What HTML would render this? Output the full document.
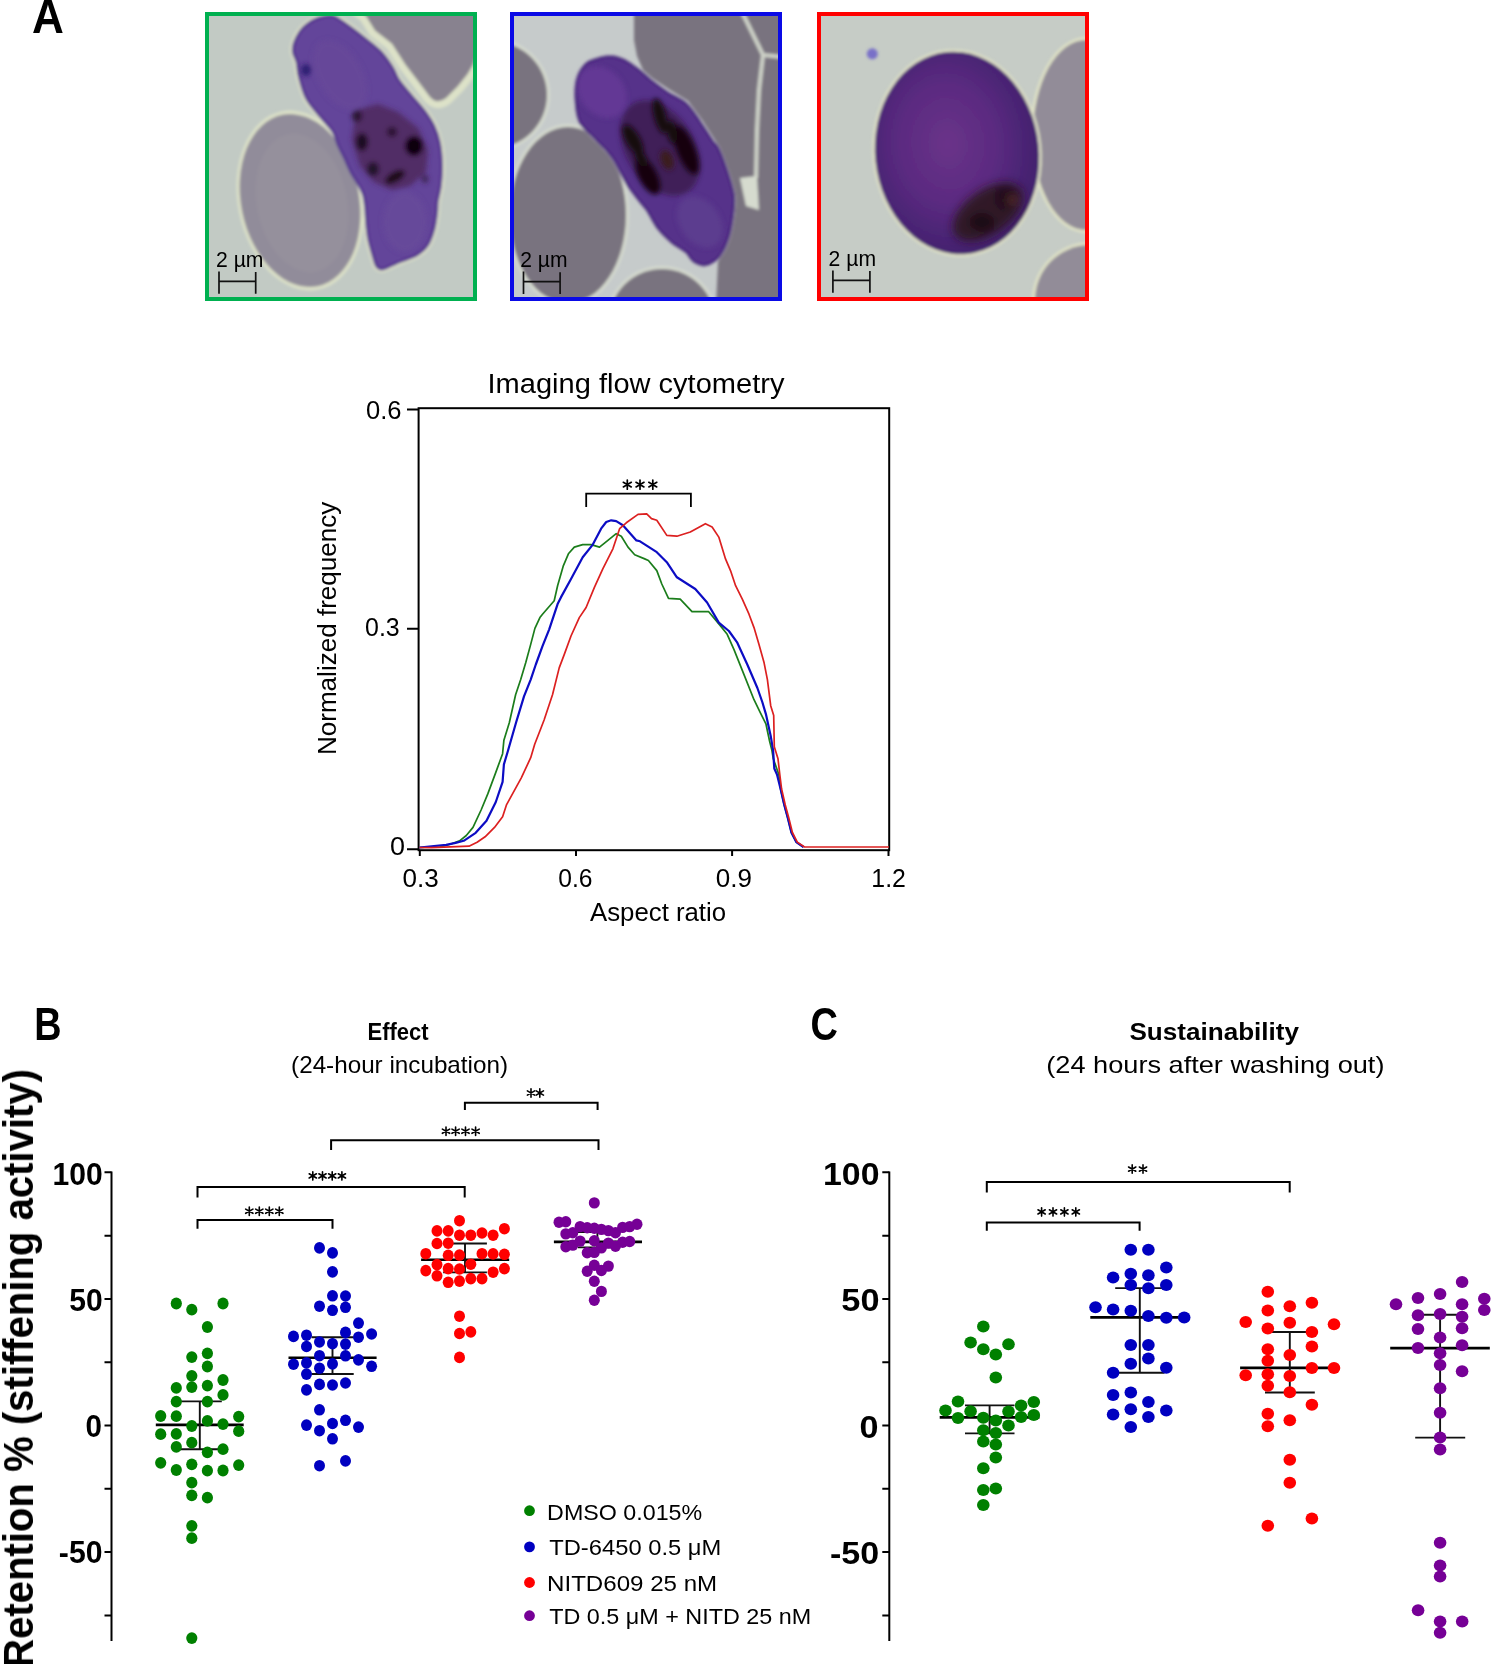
<!DOCTYPE html><html><head><meta charset="utf-8"><title>Figure</title><style>html,body{margin:0;padding:0;background:#fff;}svg{display:block;}text{font-family:"Liberation Sans",sans-serif;fill:#000;}</style></head><body>
<svg width="1491" height="1664" viewBox="0 0 1491 1664">
<defs><filter id="bl2" x="-20%" y="-20%" width="140%" height="140%"><feGaussianBlur stdDeviation="1.6"/></filter><filter id="bl3" x="-50%" y="-50%" width="200%" height="200%"><feGaussianBlur stdDeviation="2.6"/></filter><filter id="bl4" x="-50%" y="-50%" width="200%" height="200%"><feGaussianBlur stdDeviation="4"/></filter></defs>
<rect width="1491" height="1664" fill="#fff"/>
<clipPath id="cg"><rect x="209" y="16" width="264" height="281"/></clipPath><g clip-path="url(#cg)"><rect x="204" y="11" width="274" height="291" fill="#c2cac4"/><g filter="url(#bl2)"><ellipse cx="300" cy="200.5" rx="62" ry="91" transform="rotate(-11.7 300 200.5)" fill="#dde2c8"/><path d="M358,10 L366,16 L375,30.5 L392,43.7 L405.5,64.8 L418.7,82 L430,97 Q437,105 446,98 L458,86 L467.6,74.1 L473,64.8 L482,40 L482,10 Z" fill="#dde2c8" stroke="#dde2c8" stroke-width="14" stroke-linejoin="round"/><path d="M331.5,16.0 C335.3,16.4 337.5,18.8 341.0,21.0 C344.5,23.2 348.8,26.3 352.7,29.2 C356.6,32.1 360.0,34.7 364.6,38.4 C369.2,42.1 375.8,46.8 380.4,51.6 C385.0,56.5 389.2,62.6 392.3,67.5 C395.4,72.3 395.6,75.9 398.9,80.7 C402.2,85.5 407.7,91.3 412.1,96.6 C416.5,101.9 421.7,107.5 425.3,112.4 C428.9,117.3 431.5,121.2 433.8,126.2 C436.1,131.2 437.9,136.1 439.2,142.4 C440.5,148.7 441.2,156.9 441.4,164.1 C441.6,171.3 441.0,179.4 440.3,185.7 C439.6,192.0 437.7,197.4 437.1,201.9 C436.5,206.4 437.1,208.2 436.5,212.7 C435.9,217.2 435.3,223.6 433.8,229.0 C432.3,234.4 430.2,240.9 427.3,245.2 C424.4,249.5 421.0,252.2 416.5,254.9 C412.0,257.6 404.6,259.6 400.3,261.4 C396.0,263.2 393.7,264.4 390.6,265.7 C387.5,267.0 384.2,269.0 381.9,269.0 C379.5,269.0 377.9,267.9 376.5,265.7 C375.1,263.5 374.6,260.3 373.3,256.0 C372.0,251.7 370.0,245.2 368.9,239.8 C367.8,234.4 367.3,228.9 366.8,223.5 C366.3,218.1 366.2,212.2 365.7,207.3 C365.1,202.5 364.8,198.4 363.5,194.4 C362.2,190.4 360.1,187.1 358.1,183.5 C356.1,179.9 353.8,176.8 351.6,172.7 C349.4,168.6 347.2,163.2 345.1,158.7 C343.0,154.2 340.8,150.3 338.7,145.7 C336.6,141.1 336.4,136.6 332.8,131.0 C329.2,125.5 321.4,117.9 317.0,112.4 C312.6,106.9 309.3,103.6 306.4,97.9 C303.5,92.2 301.3,84.0 299.8,78.1 C298.3,72.1 298.2,66.5 297.2,62.2 C296.1,57.9 293.9,55.2 293.5,52.0 C293.1,48.8 293.4,46.3 294.5,43.0 C295.6,39.7 298.0,35.0 300.0,32.0 C302.0,29.0 303.4,27.4 306.4,25.2 C309.4,22.9 313.8,20.0 318.0,18.5 C322.2,17.0 327.7,15.6 331.5,16.0 Z" fill="#dde2c8" stroke="#dde2c8" stroke-width="7"/><ellipse cx="300" cy="200.5" rx="59" ry="87.5" transform="rotate(-11.7 300 200.5)" fill="#918c9a"/><ellipse cx="302" cy="203" rx="45" ry="70" transform="rotate(-11.7 302 203)" fill="#9a95a1" opacity="0.4"/><path d="M358,10 L366,16 L375,30.5 L392,43.7 L405.5,64.8 L418.7,82 L430,97 Q437,105 446,98 L458,86 L467.6,74.1 L473,64.8 L482,40 L482,10 Z" fill="#88828f"/><path d="M331.5,16.0 C335.3,16.4 337.5,18.8 341.0,21.0 C344.5,23.2 348.8,26.3 352.7,29.2 C356.6,32.1 360.0,34.7 364.6,38.4 C369.2,42.1 375.8,46.8 380.4,51.6 C385.0,56.5 389.2,62.6 392.3,67.5 C395.4,72.3 395.6,75.9 398.9,80.7 C402.2,85.5 407.7,91.3 412.1,96.6 C416.5,101.9 421.7,107.5 425.3,112.4 C428.9,117.3 431.5,121.2 433.8,126.2 C436.1,131.2 437.9,136.1 439.2,142.4 C440.5,148.7 441.2,156.9 441.4,164.1 C441.6,171.3 441.0,179.4 440.3,185.7 C439.6,192.0 437.7,197.4 437.1,201.9 C436.5,206.4 437.1,208.2 436.5,212.7 C435.9,217.2 435.3,223.6 433.8,229.0 C432.3,234.4 430.2,240.9 427.3,245.2 C424.4,249.5 421.0,252.2 416.5,254.9 C412.0,257.6 404.6,259.6 400.3,261.4 C396.0,263.2 393.7,264.4 390.6,265.7 C387.5,267.0 384.2,269.0 381.9,269.0 C379.5,269.0 377.9,267.9 376.5,265.7 C375.1,263.5 374.6,260.3 373.3,256.0 C372.0,251.7 370.0,245.2 368.9,239.8 C367.8,234.4 367.3,228.9 366.8,223.5 C366.3,218.1 366.2,212.2 365.7,207.3 C365.1,202.5 364.8,198.4 363.5,194.4 C362.2,190.4 360.1,187.1 358.1,183.5 C356.1,179.9 353.8,176.8 351.6,172.7 C349.4,168.6 347.2,163.2 345.1,158.7 C343.0,154.2 340.8,150.3 338.7,145.7 C336.6,141.1 336.4,136.6 332.8,131.0 C329.2,125.5 321.4,117.9 317.0,112.4 C312.6,106.9 309.3,103.6 306.4,97.9 C303.5,92.2 301.3,84.0 299.8,78.1 C298.3,72.1 298.2,66.5 297.2,62.2 C296.1,57.9 293.9,55.2 293.5,52.0 C293.1,48.8 293.4,46.3 294.5,43.0 C295.6,39.7 298.0,35.0 300.0,32.0 C302.0,29.0 303.4,27.4 306.4,25.2 C309.4,22.9 313.8,20.0 318.0,18.5 C322.2,17.0 327.7,15.6 331.5,16.0 Z" fill="#64449a" stroke="#553690" stroke-width="3"/></g><g filter="url(#bl3)"><ellipse cx="340" cy="75" rx="22" ry="38" transform="rotate(-30 340 75)" fill="#6a4a98" opacity="0.7"/><ellipse cx="405" cy="222" rx="22" ry="30" fill="#6a4c9a" opacity="0.7"/><path d="M356,110 L378,104 L398,112 L418,128 L428,150 L426,172 L410,186 L392,190 L374,182 L360,166 L352,140 Z" fill="#4e2458" opacity="0.8"/><ellipse cx="362" cy="142" rx="6" ry="9" fill="#1e1020"/><ellipse cx="357" cy="116" rx="5" ry="6" fill="#2a1630"/><ellipse cx="392" cy="132" rx="5" ry="5" fill="#2a1630"/><ellipse cx="414" cy="146" rx="9" ry="10" fill="#0e060c"/><ellipse cx="373" cy="169" rx="6" ry="7" fill="#22122a"/><ellipse cx="395" cy="177" rx="11" ry="5" transform="rotate(-30 395 177)" fill="#1a0c18"/><ellipse cx="425" cy="179" rx="3" ry="4" fill="#3a2250"/><ellipse cx="306" cy="70" rx="5" ry="6" fill="#2a1a70"/></g></g>
<clipPath id="cb"><rect x="514" y="16" width="264" height="281"/></clipPath><g clip-path="url(#cb)"><rect x="509" y="11" width="274" height="291" fill="#c6cbcb"/><g filter="url(#bl2)"><path d="M634,10 L790,10 L790,305 L716,305 L718,262 L727,242 L734,216 L735,196 L730,176 L720,148 L702,120 L688,101 L670,90 L652,78 L643,70 L637,56 L634,40 Z" fill="#79737f"/><path d="M741,10 L763,55 L782,57 M763,55 L759,90 L757,130 L756,178" stroke="#d6dbcf" stroke-width="4" fill="none" opacity="0.9"/><path d="M740,178 L757,176 L759,210 L746,206 Z" fill="#d6dbcf"/><ellipse cx="494" cy="95" rx="56" ry="56" fill="#d6dbcf"/><ellipse cx="568" cy="215" rx="61" ry="91" fill="#d6dbcf"/><ellipse cx="662" cy="322" rx="56" ry="56" fill="#d6dbcf"/><ellipse cx="494" cy="95" rx="53" ry="53" fill="#79737f"/><ellipse cx="568" cy="215" rx="58" ry="88" fill="#79737f"/><ellipse cx="662" cy="322" rx="53" ry="53" fill="#79737f"/><path d="M577.9,78.0 C579.7,72.2 583.2,66.7 587.0,63.4 C590.8,60.1 596.2,59.1 600.7,58.0 C605.2,56.9 609.8,56.2 614.3,57.0 C618.8,57.8 623.4,59.9 628.0,62.5 C632.6,65.1 638.0,69.7 641.7,72.6 C645.4,75.5 645.6,76.5 650.0,79.9 C654.4,83.3 661.8,88.9 667.8,92.9 C673.8,96.9 680.9,99.1 686.3,104.0 C691.7,108.9 695.9,116.3 700.2,122.5 C704.5,128.7 709.1,136.4 712.2,141.0 C715.3,145.6 715.9,143.9 718.7,150.0 C721.5,156.1 726.4,170.1 728.9,177.8 C731.4,185.5 732.9,190.1 733.5,196.3 C734.1,202.5 733.5,207.9 732.6,214.8 C731.7,221.8 730.3,231.1 728.0,238.0 C725.7,244.9 722.6,252.0 718.7,256.5 C714.8,261.0 709.0,264.0 704.8,264.8 C700.6,265.6 696.8,263.2 693.7,261.1 C690.6,259.0 689.8,255.0 686.3,251.9 C682.8,248.8 677.0,246.5 672.4,242.6 C667.8,238.7 662.7,234.1 658.5,228.7 C654.3,223.3 650.5,214.8 647.4,210.2 C644.3,205.6 643.2,205.2 640.0,201.0 C636.8,196.8 632.3,191.8 628.0,185.0 C623.7,178.2 618.1,166.1 614.3,160.0 C610.5,153.9 609.0,152.5 605.2,148.3 C601.4,144.1 595.8,139.2 591.5,134.6 C587.2,130.0 582.3,127.0 579.7,120.9 C577.1,114.8 576.3,105.2 576.0,98.1 C575.7,90.9 576.1,83.8 577.9,78.0 Z" fill="#c8c2c8" stroke="#c8c2c8" stroke-width="4"/><path d="M577.9,78.0 C579.7,72.2 583.2,66.7 587.0,63.4 C590.8,60.1 596.2,59.1 600.7,58.0 C605.2,56.9 609.8,56.2 614.3,57.0 C618.8,57.8 623.4,59.9 628.0,62.5 C632.6,65.1 638.0,69.7 641.7,72.6 C645.4,75.5 645.6,76.5 650.0,79.9 C654.4,83.3 661.8,88.9 667.8,92.9 C673.8,96.9 680.9,99.1 686.3,104.0 C691.7,108.9 695.9,116.3 700.2,122.5 C704.5,128.7 709.1,136.4 712.2,141.0 C715.3,145.6 715.9,143.9 718.7,150.0 C721.5,156.1 726.4,170.1 728.9,177.8 C731.4,185.5 732.9,190.1 733.5,196.3 C734.1,202.5 733.5,207.9 732.6,214.8 C731.7,221.8 730.3,231.1 728.0,238.0 C725.7,244.9 722.6,252.0 718.7,256.5 C714.8,261.0 709.0,264.0 704.8,264.8 C700.6,265.6 696.8,263.2 693.7,261.1 C690.6,259.0 689.8,255.0 686.3,251.9 C682.8,248.8 677.0,246.5 672.4,242.6 C667.8,238.7 662.7,234.1 658.5,228.7 C654.3,223.3 650.5,214.8 647.4,210.2 C644.3,205.6 643.2,205.2 640.0,201.0 C636.8,196.8 632.3,191.8 628.0,185.0 C623.7,178.2 618.1,166.1 614.3,160.0 C610.5,153.9 609.0,152.5 605.2,148.3 C601.4,144.1 595.8,139.2 591.5,134.6 C587.2,130.0 582.3,127.0 579.7,120.9 C577.1,114.8 576.3,105.2 576.0,98.1 C575.7,90.9 576.1,83.8 577.9,78.0 Z" fill="#56308a" stroke="#4a2680" stroke-width="3"/></g><g filter="url(#bl3)"><ellipse cx="602" cy="92" rx="22" ry="28" transform="rotate(-40 602 92)" fill="#6c3c9c" opacity="0.6"/><ellipse cx="700" cy="222" rx="20" ry="28" transform="rotate(-35 700 222)" fill="#614292" opacity="0.6"/><ellipse cx="660" cy="148" rx="34" ry="52" transform="rotate(-32 660 148)" fill="#301838" opacity="0.6"/></g><g filter="url(#bl3)"><ellipse cx="648" cy="176" rx="9" ry="20" transform="rotate(-27 648 176)" fill="#12060c"/><ellipse cx="686" cy="150" rx="9" ry="26" transform="rotate(-22 686 150)" fill="#12060c"/><ellipse cx="660" cy="116" rx="6" ry="18" transform="rotate(-15 660 116)" fill="#160810"/><ellipse cx="633" cy="140" rx="7" ry="17" transform="rotate(-30 633 140)" fill="#160810"/><ellipse cx="672" cy="132" rx="5" ry="12" transform="rotate(-10 672 132)" fill="#160810"/><ellipse cx="641" cy="158" rx="5" ry="10" transform="rotate(-30 641 158)" fill="#160810"/><ellipse cx="667" cy="160" rx="6" ry="10" transform="rotate(-20 667 160)" fill="#3a1a1c"/></g></g>
<clipPath id="cr"><rect x="821" y="16" width="264" height="281"/></clipPath><g clip-path="url(#cr)"><rect x="816" y="11" width="274" height="291" fill="#c6ccc6"/><g filter="url(#bl2)"><ellipse cx="1086" cy="135" rx="56" ry="98" fill="#dfe2c6"/><ellipse cx="1090" cy="300" rx="58" ry="58" fill="#dfe2c6"/><ellipse cx="1086" cy="135" rx="53" ry="95" fill="#928c98"/><ellipse cx="1090" cy="300" rx="55" ry="55" fill="#928c98"/><ellipse cx="957" cy="153" rx="84.5" ry="104" transform="rotate(-6 957 153)" fill="#dfe2c6"/><radialGradient id="rg" cx="0.45" cy="0.45" r="0.55"><stop offset="0" stop-color="#6a3389"/><stop offset="0.55" stop-color="#5a2a80"/><stop offset="0.85" stop-color="#4a2474"/><stop offset="1" stop-color="#43206e"/></radialGradient><ellipse cx="957" cy="153" rx="82" ry="101.5" transform="rotate(-6 957 153)" fill="url(#rg)"/><circle cx="872.3" cy="53.8" r="5.5" fill="#7870c8"/></g><g filter="url(#bl4)"><ellipse cx="988" cy="212" rx="40" ry="22" transform="rotate(-35 988 212)" fill="#2c1420" opacity="0.9"/><ellipse cx="982" cy="222" rx="12" ry="9" fill="#1c0c12"/><ellipse cx="1005" cy="198" rx="10" ry="12" fill="#24101a"/><ellipse cx="1012" cy="200" rx="4" ry="4" fill="#6a3a30" opacity="0.8"/></g></g>
<rect x="207" y="14" width="268" height="285" fill="none" stroke="#00b050" stroke-width="4"/>
<rect x="512" y="14" width="268" height="285" fill="none" stroke="#0a0ae6" stroke-width="4"/>
<rect x="819" y="14" width="268" height="285" fill="none" stroke="#ff0000" stroke-width="4"/>
<path d="M219,271.4V293.7M255.7,272.09999999999997V293.7M219,281.4H255.7" stroke="#111" stroke-width="1.7" fill="none"/>
<path d="M523.5,271.6V293.90000000000003M560.1,272.3V293.90000000000003M523.5,281.6H560.1" stroke="#111" stroke-width="1.7" fill="none"/>
<path d="M832.9,270.4V292.7M869.9,271.09999999999997V292.7M832.9,280.4H869.9" stroke="#111" stroke-width="1.7" fill="none"/>
<g fill="none" stroke="#000" stroke-width="2"><rect x="418.6" y="408.2" width="470.6" height="442"/><path d="M407,409.5H418.5M407,628.8H418.5M407,849.2H418.5"/><path d="M419.8,850V856M576,850V856M732.1,850V856M888.5,850V856"/></g>
<polyline points="419.4,847.5 440.0,847.0 450.2,844.2 459.6,840.8 466.3,835.5 473.0,827.4 481.1,810.0 487.8,793.9 495.8,772.4 502.6,753.7 503.9,740.2 509.3,722.8 515.6,694.7 520.7,679.6 525.7,662.8 530.7,644.4 534.9,628.4 539.9,617.6 542.5,614.2 554.2,600.8 557.6,585.7 563.4,565.6 568.4,553.8 574.3,547.1 582.7,544.6 591.1,544.6 599.5,547.1 607.9,540.4 616.2,533.7 621.3,536.2 628.0,547.1 634.7,554.7 644.7,558.9 648.4,560.5 656.8,570.6 661.8,584.0 668.5,598.3 680.2,599.1 692.0,611.7 708.7,611.7 720.5,625.9 727.2,634.3 733.9,649.4 744.0,674.6 754.0,699.7 759.8,711.7 765.9,723.8 769.5,740.7 771.9,750.4 773.3,758.8 778.8,774.5 780.6,789.0 784.2,804.7 787.8,818.0 791.4,832.5 796.3,842.1 803.5,847.0" fill="none" stroke="#1b7d1b" stroke-width="1.7" stroke-linejoin="round" />
<polyline points="419.4,847.5 446.2,844.9 455.6,842.9 463.7,840.8 475.7,832.8 486.5,820.7 495.8,802.0 502.6,781.8 503.9,764.4 507.9,751.0 516.0,722.8 524.0,696.4 530.7,679.6 535.8,664.5 542.5,646.1 549.2,629.3 557.6,604.1 560.9,597.4 571.0,579.0 582.7,557.2 592.8,544.6 601.1,528.7 606.2,522.0 611.2,520.3 616.2,521.1 622.9,525.3 636.4,540.4 640.0,541.3 656.8,552.2 666.8,562.2 676.9,577.3 695.3,589.0 707.1,602.5 718.8,622.6 728.9,631.0 737.3,642.7 747.3,664.5 757.4,688.0 762.3,702.0 765.9,714.1 770.7,735.9 773.1,750.4 774.3,768.5 777.0,774.5 780.6,789.0 784.2,804.7 787.8,818.0 791.4,832.5 796.3,842.1 803.5,847.0" fill="none" stroke="#0c0cc4" stroke-width="2.2" stroke-linejoin="round" />
<polyline points="419.4,847.5 431.5,847.6 469.0,846.2 477.1,842.2 485.1,836.8 494.5,827.4 502.6,816.7 506.6,804.6 521.3,777.8 530.7,757.7 534.7,744.3 541.5,726.8 544.1,720.0 552.5,694.7 559.2,667.9 564.3,654.4 571.0,636.0 579.3,617.6 586.1,607.5 594.4,587.4 602.8,568.9 612.9,548.8 619.6,528.7 626.3,522.8 638.0,514.4 646.7,513.9 651.5,518.6 656.8,520.3 666.8,535.4 676.9,536.2 690.3,532.0 705.4,523.7 712.1,527.0 718.8,537.1 725.5,558.9 730.5,570.6 735.6,585.7 742.3,599.1 749.0,614.2 754.0,627.6 759.0,644.4 764.1,662.8 767.4,679.6 770.7,705.7 773.7,715.4 774.3,746.7 778.0,758.8 779.8,774.5 781.6,789.0 785.2,804.7 788.8,818.0 792.4,832.5 797.3,842.1 804.5,847.0 889.0,847.0" fill="none" stroke="#dc2020" stroke-width="1.7" stroke-linejoin="round" />
<path d="M586.2,507V493.7H690.9V507" fill="none" stroke="#000" stroke-width="1.8"/>
<path d="M627.30,489.20L627.30,480.00M623.32,486.90L631.28,482.30M623.32,482.30L631.28,486.90" stroke="#000" stroke-width="1.7" stroke-linecap="round" fill="none"/>
<path d="M640.00,489.20L640.00,480.00M636.02,486.90L643.98,482.30M636.02,482.30L643.98,486.90" stroke="#000" stroke-width="1.7" stroke-linecap="round" fill="none"/>
<path d="M652.80,489.20L652.80,480.00M648.82,486.90L656.78,482.30M648.82,482.30L656.78,486.90" stroke="#000" stroke-width="1.7" stroke-linecap="round" fill="none"/>
<g fill="none" stroke="#000" stroke-width="2">
<path d="M111.5,1171.5V1641"/>
<path d="M104.5,1172.3H111.5M104.5,1235.7H111.5M104.5,1299H111.5M104.5,1362.2H111.5M104.5,1425.5H111.5M104.5,1488.8H111.5M104.5,1552.1H111.5M104.5,1615.4H111.5"/>
<path d="M889.3,1171.5V1641"/>
<path d="M882.3,1172.3H889.3M882.3,1235.7H889.3M882.3,1299H889.3M882.3,1362.2H889.3M882.3,1425.5H889.3M882.3,1488.8H889.3M882.3,1552.1H889.3M882.3,1615.4H889.3"/>
</g>
<path d="M464.9,1110.1V1102.8H597.6V1110.1" fill="none" stroke="#000" stroke-width="2"/>
<path d="M531.00,1097.20L531.00,1088.80M527.36,1095.10L534.64,1090.90M527.36,1090.90L534.64,1095.10" stroke="#000" stroke-width="1.6" stroke-linecap="round" fill="none"/>
<path d="M539.80,1097.20L539.80,1088.80M536.16,1095.10L543.44,1090.90M536.16,1090.90L543.44,1095.10" stroke="#000" stroke-width="1.6" stroke-linecap="round" fill="none"/>
<path d="M331.1,1150.0V1140.3H598.5V1150.0" fill="none" stroke="#000" stroke-width="2"/>
<path d="M446.00,1135.40L446.00,1127.00M442.36,1133.30L449.64,1129.10M442.36,1129.10L449.64,1133.30" stroke="#000" stroke-width="1.6" stroke-linecap="round" fill="none"/>
<path d="M455.60,1135.40L455.60,1127.00M451.96,1133.30L459.24,1129.10M451.96,1129.10L459.24,1133.30" stroke="#000" stroke-width="1.6" stroke-linecap="round" fill="none"/>
<path d="M465.50,1135.40L465.50,1127.00M461.86,1133.30L469.14,1129.10M461.86,1129.10L469.14,1133.30" stroke="#000" stroke-width="1.6" stroke-linecap="round" fill="none"/>
<path d="M475.60,1135.40L475.60,1127.00M471.96,1133.30L479.24,1129.10M471.96,1129.10L479.24,1133.30" stroke="#000" stroke-width="1.6" stroke-linecap="round" fill="none"/>
<path d="M197.5,1197.6V1187.1H464.7V1197.6" fill="none" stroke="#000" stroke-width="2"/>
<path d="M312.80,1180.10L312.80,1171.70M309.16,1178.00L316.44,1173.80M309.16,1173.80L316.44,1178.00" stroke="#000" stroke-width="1.6" stroke-linecap="round" fill="none"/>
<path d="M322.50,1180.10L322.50,1171.70M318.86,1178.00L326.14,1173.80M318.86,1173.80L326.14,1178.00" stroke="#000" stroke-width="1.6" stroke-linecap="round" fill="none"/>
<path d="M332.20,1180.10L332.20,1171.70M328.56,1178.00L335.84,1173.80M328.56,1173.80L335.84,1178.00" stroke="#000" stroke-width="1.6" stroke-linecap="round" fill="none"/>
<path d="M341.90,1180.10L341.90,1171.70M338.26,1178.00L345.54,1173.80M338.26,1173.80L345.54,1178.00" stroke="#000" stroke-width="1.6" stroke-linecap="round" fill="none"/>
<path d="M197.5,1228.7V1220.1H332.5V1228.7" fill="none" stroke="#000" stroke-width="2"/>
<path d="M249.30,1215.40L249.30,1207.00M245.66,1213.30L252.94,1209.10M245.66,1209.10L252.94,1213.30" stroke="#000" stroke-width="1.6" stroke-linecap="round" fill="none"/>
<path d="M259.30,1215.40L259.30,1207.00M255.66,1213.30L262.94,1209.10M255.66,1209.10L262.94,1213.30" stroke="#000" stroke-width="1.6" stroke-linecap="round" fill="none"/>
<path d="M269.30,1215.40L269.30,1207.00M265.66,1213.30L272.94,1209.10M265.66,1209.10L272.94,1213.30" stroke="#000" stroke-width="1.6" stroke-linecap="round" fill="none"/>
<path d="M279.30,1215.40L279.30,1207.00M275.66,1213.30L282.94,1209.10M275.66,1209.10L282.94,1213.30" stroke="#000" stroke-width="1.6" stroke-linecap="round" fill="none"/>
<path d="M986.8,1192.5V1182.0H1289.7V1192.5" fill="none" stroke="#000" stroke-width="2"/>
<path d="M1132.20,1173.30L1132.20,1164.90M1128.56,1171.20L1135.84,1167.00M1128.56,1167.00L1135.84,1171.20" stroke="#000" stroke-width="1.6" stroke-linecap="round" fill="none"/>
<path d="M1143.00,1173.30L1143.00,1164.90M1139.36,1171.20L1146.64,1167.00M1139.36,1167.00L1146.64,1171.20" stroke="#000" stroke-width="1.6" stroke-linecap="round" fill="none"/>
<path d="M986.8,1230.7V1222.5H1139.6V1230.7" fill="none" stroke="#000" stroke-width="2"/>
<path d="M1041.60,1216.10L1041.60,1207.70M1037.96,1214.00L1045.24,1209.80M1037.96,1209.80L1045.24,1214.00" stroke="#000" stroke-width="1.6" stroke-linecap="round" fill="none"/>
<path d="M1053.00,1216.10L1053.00,1207.70M1049.36,1214.00L1056.64,1209.80M1049.36,1209.80L1056.64,1214.00" stroke="#000" stroke-width="1.6" stroke-linecap="round" fill="none"/>
<path d="M1064.40,1216.10L1064.40,1207.70M1060.76,1214.00L1068.04,1209.80M1060.76,1209.80L1068.04,1214.00" stroke="#000" stroke-width="1.6" stroke-linecap="round" fill="none"/>
<path d="M1075.80,1216.10L1075.80,1207.70M1072.16,1214.00L1079.44,1209.80M1072.16,1209.80L1079.44,1214.00" stroke="#000" stroke-width="1.6" stroke-linecap="round" fill="none"/>
<path d="M155.8,1424.9H243.7" stroke="#000" stroke-width="2.6"/>
<path d="M199.8,1401.4V1449.3M177.5,1401.4H221.8M177.5,1449.3H221.8" stroke="#111" stroke-width="1.9" fill="none"/>
<path d="M288.5,1357.7H376.6" stroke="#000" stroke-width="2.6"/>
<path d="M332.5,1337.2V1374.0M311.5,1337.2H353.7M311.5,1374.0H353.7" stroke="#111" stroke-width="1.9" fill="none"/>
<path d="M421.1,1259.7H509.2" stroke="#000" stroke-width="2.6"/>
<path d="M465.0,1243.5V1272.4M443.2,1243.5H486.9M443.2,1272.4H486.9" stroke="#111" stroke-width="1.9" fill="none"/>
<path d="M553.9,1241.9H642.0" stroke="#000" stroke-width="2.6"/>
<path d="M597.4,1232.0V1247.4M577.7,1232.0H619.0M577.7,1247.4H619.0" stroke="#111" stroke-width="1.9" fill="none"/>
<path d="M939.7,1417.4H1039.5" stroke="#000" stroke-width="2.6"/>
<path d="M989.6,1405.4V1433.4M965.0,1405.4H1014.5M965.0,1433.4H1014.5" stroke="#111" stroke-width="1.9" fill="none"/>
<path d="M1090.3,1317.4H1190.0" stroke="#000" stroke-width="2.6"/>
<path d="M1139.8,1288.1V1372.7M1115.2,1288.1H1164.5M1115.2,1372.7H1164.5" stroke="#111" stroke-width="1.9" fill="none"/>
<path d="M1240.1,1367.9H1340.0" stroke="#000" stroke-width="2.6"/>
<path d="M1289.8,1332.0V1392.5M1265.0,1332.0H1314.8M1265.0,1392.5H1314.8" stroke="#111" stroke-width="1.9" fill="none"/>
<path d="M1390.2,1348.1H1489.8" stroke="#000" stroke-width="2.6"/>
<path d="M1440.1,1314.8V1437.6M1415.2,1314.8H1465.2M1415.2,1437.6H1465.2" stroke="#111" stroke-width="1.9" fill="none"/>
<ellipse cx="176.3" cy="1303.5" rx="5.6" ry="5.9" fill="#008000"/><ellipse cx="223.0" cy="1303.5" rx="5.6" ry="5.9" fill="#008000"/><ellipse cx="191.8" cy="1309.7" rx="5.6" ry="5.9" fill="#008000"/><ellipse cx="207.4" cy="1327.0" rx="5.6" ry="5.9" fill="#008000"/><ellipse cx="207.4" cy="1353.3" rx="5.6" ry="5.9" fill="#008000"/><ellipse cx="191.8" cy="1357.1" rx="5.6" ry="5.9" fill="#008000"/><ellipse cx="207.4" cy="1366.5" rx="5.6" ry="5.9" fill="#008000"/><ellipse cx="191.8" cy="1375.8" rx="5.6" ry="5.9" fill="#008000"/><ellipse cx="223.0" cy="1380.0" rx="5.6" ry="5.9" fill="#008000"/><ellipse cx="207.4" cy="1385.6" rx="5.6" ry="5.9" fill="#008000"/><ellipse cx="191.8" cy="1387.1" rx="5.6" ry="5.9" fill="#008000"/><ellipse cx="176.3" cy="1387.9" rx="5.6" ry="5.9" fill="#008000"/><ellipse cx="223.0" cy="1394.9" rx="5.6" ry="5.9" fill="#008000"/><ellipse cx="176.3" cy="1401.6" rx="5.6" ry="5.9" fill="#008000"/><ellipse cx="207.4" cy="1401.6" rx="5.6" ry="5.9" fill="#008000"/><ellipse cx="160.7" cy="1416.0" rx="5.6" ry="5.9" fill="#008000"/><ellipse cx="176.3" cy="1416.2" rx="5.6" ry="5.9" fill="#008000"/><ellipse cx="238.7" cy="1416.6" rx="5.6" ry="5.9" fill="#008000"/><ellipse cx="207.4" cy="1420.9" rx="5.6" ry="5.9" fill="#008000"/><ellipse cx="223.0" cy="1424.1" rx="5.6" ry="5.9" fill="#008000"/><ellipse cx="191.8" cy="1426.0" rx="5.6" ry="5.9" fill="#008000"/><ellipse cx="238.7" cy="1431.2" rx="5.6" ry="5.9" fill="#008000"/><ellipse cx="160.7" cy="1434.2" rx="5.6" ry="5.9" fill="#008000"/><ellipse cx="176.3" cy="1433.9" rx="5.6" ry="5.9" fill="#008000"/><ellipse cx="191.8" cy="1442.7" rx="5.6" ry="5.9" fill="#008000"/><ellipse cx="176.3" cy="1446.9" rx="5.6" ry="5.9" fill="#008000"/><ellipse cx="223.0" cy="1449.2" rx="5.6" ry="5.9" fill="#008000"/><ellipse cx="207.4" cy="1452.3" rx="5.6" ry="5.9" fill="#008000"/><ellipse cx="160.7" cy="1462.8" rx="5.6" ry="5.9" fill="#008000"/><ellipse cx="191.8" cy="1464.3" rx="5.6" ry="5.9" fill="#008000"/><ellipse cx="238.7" cy="1465.1" rx="5.6" ry="5.9" fill="#008000"/><ellipse cx="176.3" cy="1470.0" rx="5.6" ry="5.9" fill="#008000"/><ellipse cx="207.4" cy="1470.7" rx="5.6" ry="5.9" fill="#008000"/><ellipse cx="223.0" cy="1470.5" rx="5.6" ry="5.9" fill="#008000"/><ellipse cx="191.8" cy="1482.7" rx="5.6" ry="5.9" fill="#008000"/><ellipse cx="191.8" cy="1495.3" rx="5.6" ry="5.9" fill="#008000"/><ellipse cx="207.4" cy="1497.7" rx="5.6" ry="5.9" fill="#008000"/><ellipse cx="191.8" cy="1525.8" rx="5.6" ry="5.9" fill="#008000"/><ellipse cx="191.8" cy="1538.2" rx="5.6" ry="5.9" fill="#008000"/><ellipse cx="191.8" cy="1638.1" rx="5.6" ry="5.9" fill="#008000"/>
<ellipse cx="319.5" cy="1247.9" rx="5.5" ry="5.8" fill="#0000c0"/><ellipse cx="332.5" cy="1252.9" rx="5.5" ry="5.8" fill="#0000c0"/><ellipse cx="332.5" cy="1271.9" rx="5.5" ry="5.8" fill="#0000c0"/><ellipse cx="332.5" cy="1295.8" rx="5.5" ry="5.8" fill="#0000c0"/><ellipse cx="345.5" cy="1296.0" rx="5.5" ry="5.8" fill="#0000c0"/><ellipse cx="319.5" cy="1306.2" rx="5.5" ry="5.8" fill="#0000c0"/><ellipse cx="345.5" cy="1307.3" rx="5.5" ry="5.8" fill="#0000c0"/><ellipse cx="332.5" cy="1310.3" rx="5.5" ry="5.8" fill="#0000c0"/><ellipse cx="358.5" cy="1323.1" rx="5.5" ry="5.8" fill="#0000c0"/><ellipse cx="345.5" cy="1332.4" rx="5.5" ry="5.8" fill="#0000c0"/><ellipse cx="371.6" cy="1334.0" rx="5.5" ry="5.8" fill="#0000c0"/><ellipse cx="306.5" cy="1335.2" rx="5.5" ry="5.8" fill="#0000c0"/><ellipse cx="293.5" cy="1336.4" rx="5.5" ry="5.8" fill="#0000c0"/><ellipse cx="358.5" cy="1337.2" rx="5.5" ry="5.8" fill="#0000c0"/><ellipse cx="319.5" cy="1342.0" rx="5.5" ry="5.8" fill="#0000c0"/><ellipse cx="332.5" cy="1343.7" rx="5.5" ry="5.8" fill="#0000c0"/><ellipse cx="345.5" cy="1344.1" rx="5.5" ry="5.8" fill="#0000c0"/><ellipse cx="306.5" cy="1346.5" rx="5.5" ry="5.8" fill="#0000c0"/><ellipse cx="319.5" cy="1355.7" rx="5.5" ry="5.8" fill="#0000c0"/><ellipse cx="345.5" cy="1355.8" rx="5.5" ry="5.8" fill="#0000c0"/><ellipse cx="358.5" cy="1359.9" rx="5.5" ry="5.8" fill="#0000c0"/><ellipse cx="306.5" cy="1362.9" rx="5.5" ry="5.8" fill="#0000c0"/><ellipse cx="332.5" cy="1363.9" rx="5.5" ry="5.8" fill="#0000c0"/><ellipse cx="293.5" cy="1364.2" rx="5.5" ry="5.8" fill="#0000c0"/><ellipse cx="371.6" cy="1366.3" rx="5.5" ry="5.8" fill="#0000c0"/><ellipse cx="319.5" cy="1368.2" rx="5.5" ry="5.8" fill="#0000c0"/><ellipse cx="306.5" cy="1374.1" rx="5.5" ry="5.8" fill="#0000c0"/><ellipse cx="345.5" cy="1383.0" rx="5.5" ry="5.8" fill="#0000c0"/><ellipse cx="319.5" cy="1384.4" rx="5.5" ry="5.8" fill="#0000c0"/><ellipse cx="332.5" cy="1385.0" rx="5.5" ry="5.8" fill="#0000c0"/><ellipse cx="306.5" cy="1389.9" rx="5.5" ry="5.8" fill="#0000c0"/><ellipse cx="319.5" cy="1409.8" rx="5.5" ry="5.8" fill="#0000c0"/><ellipse cx="345.5" cy="1420.3" rx="5.5" ry="5.8" fill="#0000c0"/><ellipse cx="332.5" cy="1423.5" rx="5.5" ry="5.8" fill="#0000c0"/><ellipse cx="306.5" cy="1425.1" rx="5.5" ry="5.8" fill="#0000c0"/><ellipse cx="358.5" cy="1427.1" rx="5.5" ry="5.8" fill="#0000c0"/><ellipse cx="319.5" cy="1430.7" rx="5.5" ry="5.8" fill="#0000c0"/><ellipse cx="332.5" cy="1438.8" rx="5.5" ry="5.8" fill="#0000c0"/><ellipse cx="345.5" cy="1460.9" rx="5.5" ry="5.8" fill="#0000c0"/><ellipse cx="319.5" cy="1465.7" rx="5.5" ry="5.8" fill="#0000c0"/>
<ellipse cx="459.5" cy="1220.7" rx="5.5" ry="5.8" fill="#ff0000"/><ellipse cx="504.4" cy="1228.7" rx="5.5" ry="5.8" fill="#ff0000"/><ellipse cx="437.0" cy="1230.9" rx="5.5" ry="5.8" fill="#ff0000"/><ellipse cx="448.2" cy="1230.9" rx="5.5" ry="5.8" fill="#ff0000"/><ellipse cx="482.0" cy="1233.0" rx="5.5" ry="5.8" fill="#ff0000"/><ellipse cx="459.5" cy="1235.2" rx="5.5" ry="5.8" fill="#ff0000"/><ellipse cx="470.8" cy="1235.2" rx="5.5" ry="5.8" fill="#ff0000"/><ellipse cx="493.1" cy="1235.2" rx="5.5" ry="5.8" fill="#ff0000"/><ellipse cx="448.2" cy="1243.2" rx="5.5" ry="5.8" fill="#ff0000"/><ellipse cx="437.0" cy="1243.5" rx="5.5" ry="5.8" fill="#ff0000"/><ellipse cx="425.8" cy="1253.7" rx="5.5" ry="5.8" fill="#ff0000"/><ellipse cx="482.0" cy="1253.7" rx="5.5" ry="5.8" fill="#ff0000"/><ellipse cx="493.1" cy="1253.9" rx="5.5" ry="5.8" fill="#ff0000"/><ellipse cx="504.4" cy="1254.3" rx="5.5" ry="5.8" fill="#ff0000"/><ellipse cx="459.5" cy="1255.1" rx="5.5" ry="5.8" fill="#ff0000"/><ellipse cx="448.2" cy="1255.3" rx="5.5" ry="5.8" fill="#ff0000"/><ellipse cx="470.8" cy="1264.2" rx="5.5" ry="5.8" fill="#ff0000"/><ellipse cx="437.0" cy="1264.6" rx="5.5" ry="5.8" fill="#ff0000"/><ellipse cx="448.2" cy="1268.6" rx="5.5" ry="5.8" fill="#ff0000"/><ellipse cx="504.4" cy="1268.6" rx="5.5" ry="5.8" fill="#ff0000"/><ellipse cx="459.5" cy="1269.0" rx="5.5" ry="5.8" fill="#ff0000"/><ellipse cx="425.8" cy="1270.6" rx="5.5" ry="5.8" fill="#ff0000"/><ellipse cx="493.1" cy="1272.2" rx="5.5" ry="5.8" fill="#ff0000"/><ellipse cx="437.0" cy="1275.8" rx="5.5" ry="5.8" fill="#ff0000"/><ellipse cx="470.8" cy="1278.6" rx="5.5" ry="5.8" fill="#ff0000"/><ellipse cx="482.0" cy="1278.6" rx="5.5" ry="5.8" fill="#ff0000"/><ellipse cx="459.5" cy="1281.1" rx="5.5" ry="5.8" fill="#ff0000"/><ellipse cx="448.2" cy="1282.3" rx="5.5" ry="5.8" fill="#ff0000"/><ellipse cx="459.5" cy="1316.2" rx="5.5" ry="5.8" fill="#ff0000"/><ellipse cx="470.8" cy="1331.9" rx="5.5" ry="5.8" fill="#ff0000"/><ellipse cx="459.5" cy="1333.5" rx="5.5" ry="5.8" fill="#ff0000"/><ellipse cx="459.5" cy="1357.4" rx="5.5" ry="5.8" fill="#ff0000"/>
<ellipse cx="594.3" cy="1202.9" rx="5.5" ry="5.7" fill="#760096"/><ellipse cx="559.0" cy="1222.2" rx="5.5" ry="5.7" fill="#760096"/><ellipse cx="565.8" cy="1221.8" rx="5.5" ry="5.7" fill="#760096"/><ellipse cx="637.0" cy="1224.2" rx="5.5" ry="5.7" fill="#760096"/><ellipse cx="580.1" cy="1226.6" rx="5.5" ry="5.7" fill="#760096"/><ellipse cx="587.2" cy="1227.8" rx="5.5" ry="5.7" fill="#760096"/><ellipse cx="594.3" cy="1228.2" rx="5.5" ry="5.7" fill="#760096"/><ellipse cx="601.4" cy="1229.4" rx="5.5" ry="5.7" fill="#760096"/><ellipse cx="608.4" cy="1230.6" rx="5.5" ry="5.7" fill="#760096"/><ellipse cx="615.5" cy="1232.7" rx="5.5" ry="5.7" fill="#760096"/><ellipse cx="622.6" cy="1227.4" rx="5.5" ry="5.7" fill="#760096"/><ellipse cx="629.7" cy="1226.6" rx="5.5" ry="5.7" fill="#760096"/><ellipse cx="565.8" cy="1233.9" rx="5.5" ry="5.7" fill="#760096"/><ellipse cx="572.8" cy="1232.7" rx="5.5" ry="5.7" fill="#760096"/><ellipse cx="580.1" cy="1241.1" rx="5.5" ry="5.7" fill="#760096"/><ellipse cx="594.3" cy="1240.7" rx="5.5" ry="5.7" fill="#760096"/><ellipse cx="565.8" cy="1246.7" rx="5.5" ry="5.7" fill="#760096"/><ellipse cx="572.8" cy="1245.1" rx="5.5" ry="5.7" fill="#760096"/><ellipse cx="608.4" cy="1243.1" rx="5.5" ry="5.7" fill="#760096"/><ellipse cx="615.5" cy="1246.3" rx="5.5" ry="5.7" fill="#760096"/><ellipse cx="622.6" cy="1242.3" rx="5.5" ry="5.7" fill="#760096"/><ellipse cx="629.7" cy="1241.5" rx="5.5" ry="5.7" fill="#760096"/><ellipse cx="601.4" cy="1247.9" rx="5.5" ry="5.7" fill="#760096"/><ellipse cx="587.2" cy="1252.8" rx="5.5" ry="5.7" fill="#760096"/><ellipse cx="594.3" cy="1252.4" rx="5.5" ry="5.7" fill="#760096"/><ellipse cx="594.3" cy="1265.3" rx="5.5" ry="5.7" fill="#760096"/><ellipse cx="608.4" cy="1266.1" rx="5.5" ry="5.7" fill="#760096"/><ellipse cx="587.2" cy="1271.3" rx="5.5" ry="5.7" fill="#760096"/><ellipse cx="601.4" cy="1270.5" rx="5.5" ry="5.7" fill="#760096"/><ellipse cx="594.3" cy="1281.3" rx="5.5" ry="5.7" fill="#760096"/><ellipse cx="601.4" cy="1291.4" rx="5.5" ry="5.7" fill="#760096"/><ellipse cx="594.3" cy="1300.3" rx="5.5" ry="5.7" fill="#760096"/>
<ellipse cx="983.3" cy="1326.6" rx="6.3" ry="6.0" fill="#008000"/><ellipse cx="970.6" cy="1342.4" rx="6.3" ry="6.0" fill="#008000"/><ellipse cx="1008.5" cy="1344.3" rx="6.3" ry="6.0" fill="#008000"/><ellipse cx="983.3" cy="1349.3" rx="6.3" ry="6.0" fill="#008000"/><ellipse cx="995.8" cy="1354.5" rx="6.3" ry="6.0" fill="#008000"/><ellipse cx="995.8" cy="1377.4" rx="6.3" ry="6.0" fill="#008000"/><ellipse cx="958.0" cy="1401.6" rx="6.3" ry="6.0" fill="#008000"/><ellipse cx="1033.8" cy="1402.0" rx="6.3" ry="6.0" fill="#008000"/><ellipse cx="1021.1" cy="1405.5" rx="6.3" ry="6.0" fill="#008000"/><ellipse cx="945.5" cy="1410.6" rx="6.3" ry="6.0" fill="#008000"/><ellipse cx="970.6" cy="1411.3" rx="6.3" ry="6.0" fill="#008000"/><ellipse cx="1008.5" cy="1411.5" rx="6.3" ry="6.0" fill="#008000"/><ellipse cx="1033.8" cy="1414.9" rx="6.3" ry="6.0" fill="#008000"/><ellipse cx="1021.1" cy="1416.9" rx="6.3" ry="6.0" fill="#008000"/><ellipse cx="958.0" cy="1418.0" rx="6.3" ry="6.0" fill="#008000"/><ellipse cx="983.3" cy="1417.8" rx="6.3" ry="6.0" fill="#008000"/><ellipse cx="995.8" cy="1420.5" rx="6.3" ry="6.0" fill="#008000"/><ellipse cx="1008.5" cy="1425.4" rx="6.3" ry="6.0" fill="#008000"/><ellipse cx="983.3" cy="1430.2" rx="6.3" ry="6.0" fill="#008000"/><ellipse cx="995.8" cy="1433.0" rx="6.3" ry="6.0" fill="#008000"/><ellipse cx="983.3" cy="1441.4" rx="6.3" ry="6.0" fill="#008000"/><ellipse cx="995.8" cy="1444.4" rx="6.3" ry="6.0" fill="#008000"/><ellipse cx="995.8" cy="1457.5" rx="6.3" ry="6.0" fill="#008000"/><ellipse cx="983.3" cy="1468.2" rx="6.3" ry="6.0" fill="#008000"/><ellipse cx="995.8" cy="1488.4" rx="6.3" ry="6.0" fill="#008000"/><ellipse cx="983.3" cy="1490.1" rx="6.3" ry="6.0" fill="#008000"/><ellipse cx="983.3" cy="1505.0" rx="6.3" ry="6.0" fill="#008000"/>
<ellipse cx="1130.8" cy="1249.7" rx="6.3" ry="6.0" fill="#0000c0"/><ellipse cx="1148.4" cy="1249.7" rx="6.3" ry="6.0" fill="#0000c0"/><ellipse cx="1166.3" cy="1267.4" rx="6.3" ry="6.0" fill="#0000c0"/><ellipse cx="1130.8" cy="1273.8" rx="6.3" ry="6.0" fill="#0000c0"/><ellipse cx="1148.4" cy="1275.3" rx="6.3" ry="6.0" fill="#0000c0"/><ellipse cx="1113.1" cy="1277.4" rx="6.3" ry="6.0" fill="#0000c0"/><ellipse cx="1130.8" cy="1285.1" rx="6.3" ry="6.0" fill="#0000c0"/><ellipse cx="1166.3" cy="1285.1" rx="6.3" ry="6.0" fill="#0000c0"/><ellipse cx="1148.4" cy="1288.3" rx="6.3" ry="6.0" fill="#0000c0"/><ellipse cx="1095.5" cy="1307.2" rx="6.3" ry="6.0" fill="#0000c0"/><ellipse cx="1113.1" cy="1309.6" rx="6.3" ry="6.0" fill="#0000c0"/><ellipse cx="1130.8" cy="1310.7" rx="6.3" ry="6.0" fill="#0000c0"/><ellipse cx="1148.4" cy="1316.1" rx="6.3" ry="6.0" fill="#0000c0"/><ellipse cx="1166.3" cy="1317.7" rx="6.3" ry="6.0" fill="#0000c0"/><ellipse cx="1184.2" cy="1317.4" rx="6.3" ry="6.0" fill="#0000c0"/><ellipse cx="1130.8" cy="1345.0" rx="6.3" ry="6.0" fill="#0000c0"/><ellipse cx="1148.4" cy="1345.0" rx="6.3" ry="6.0" fill="#0000c0"/><ellipse cx="1148.4" cy="1358.6" rx="6.3" ry="6.0" fill="#0000c0"/><ellipse cx="1130.8" cy="1363.8" rx="6.3" ry="6.0" fill="#0000c0"/><ellipse cx="1166.3" cy="1367.8" rx="6.3" ry="6.0" fill="#0000c0"/><ellipse cx="1113.1" cy="1372.7" rx="6.3" ry="6.0" fill="#0000c0"/><ellipse cx="1130.8" cy="1392.6" rx="6.3" ry="6.0" fill="#0000c0"/><ellipse cx="1113.1" cy="1395.0" rx="6.3" ry="6.0" fill="#0000c0"/><ellipse cx="1148.4" cy="1402.0" rx="6.3" ry="6.0" fill="#0000c0"/><ellipse cx="1130.8" cy="1409.3" rx="6.3" ry="6.0" fill="#0000c0"/><ellipse cx="1166.3" cy="1410.5" rx="6.3" ry="6.0" fill="#0000c0"/><ellipse cx="1113.1" cy="1414.5" rx="6.3" ry="6.0" fill="#0000c0"/><ellipse cx="1148.4" cy="1416.9" rx="6.3" ry="6.0" fill="#0000c0"/><ellipse cx="1130.8" cy="1427.0" rx="6.3" ry="6.0" fill="#0000c0"/>
<ellipse cx="1267.8" cy="1291.8" rx="6.3" ry="6.0" fill="#ff0000"/><ellipse cx="1311.9" cy="1302.7" rx="6.3" ry="6.0" fill="#ff0000"/><ellipse cx="1289.8" cy="1306.2" rx="6.3" ry="6.0" fill="#ff0000"/><ellipse cx="1267.8" cy="1310.6" rx="6.3" ry="6.0" fill="#ff0000"/><ellipse cx="1245.7" cy="1322.0" rx="6.3" ry="6.0" fill="#ff0000"/><ellipse cx="1289.8" cy="1322.8" rx="6.3" ry="6.0" fill="#ff0000"/><ellipse cx="1334.0" cy="1324.2" rx="6.3" ry="6.0" fill="#ff0000"/><ellipse cx="1267.8" cy="1328.5" rx="6.3" ry="6.0" fill="#ff0000"/><ellipse cx="1311.9" cy="1332.0" rx="6.3" ry="6.0" fill="#ff0000"/><ellipse cx="1311.9" cy="1346.5" rx="6.3" ry="6.0" fill="#ff0000"/><ellipse cx="1267.8" cy="1349.2" rx="6.3" ry="6.0" fill="#ff0000"/><ellipse cx="1289.8" cy="1355.1" rx="6.3" ry="6.0" fill="#ff0000"/><ellipse cx="1267.8" cy="1360.7" rx="6.3" ry="6.0" fill="#ff0000"/><ellipse cx="1311.9" cy="1367.9" rx="6.3" ry="6.0" fill="#ff0000"/><ellipse cx="1334.0" cy="1367.9" rx="6.3" ry="6.0" fill="#ff0000"/><ellipse cx="1245.7" cy="1375.2" rx="6.3" ry="6.0" fill="#ff0000"/><ellipse cx="1267.8" cy="1374.3" rx="6.3" ry="6.0" fill="#ff0000"/><ellipse cx="1289.8" cy="1376.0" rx="6.3" ry="6.0" fill="#ff0000"/><ellipse cx="1267.8" cy="1385.7" rx="6.3" ry="6.0" fill="#ff0000"/><ellipse cx="1289.8" cy="1392.3" rx="6.3" ry="6.0" fill="#ff0000"/><ellipse cx="1311.9" cy="1404.7" rx="6.3" ry="6.0" fill="#ff0000"/><ellipse cx="1267.8" cy="1413.7" rx="6.3" ry="6.0" fill="#ff0000"/><ellipse cx="1289.8" cy="1420.2" rx="6.3" ry="6.0" fill="#ff0000"/><ellipse cx="1267.8" cy="1426.3" rx="6.3" ry="6.0" fill="#ff0000"/><ellipse cx="1289.8" cy="1459.8" rx="6.3" ry="6.0" fill="#ff0000"/><ellipse cx="1289.8" cy="1482.8" rx="6.3" ry="6.0" fill="#ff0000"/><ellipse cx="1311.9" cy="1518.4" rx="6.3" ry="6.0" fill="#ff0000"/><ellipse cx="1267.8" cy="1525.8" rx="6.3" ry="6.0" fill="#ff0000"/>
<ellipse cx="1462.1" cy="1282.1" rx="6.3" ry="6.0" fill="#760096"/><ellipse cx="1440.1" cy="1293.9" rx="6.3" ry="6.0" fill="#760096"/><ellipse cx="1418.0" cy="1298.1" rx="6.3" ry="6.0" fill="#760096"/><ellipse cx="1484.3" cy="1298.8" rx="6.3" ry="6.0" fill="#760096"/><ellipse cx="1396.0" cy="1304.3" rx="6.3" ry="6.0" fill="#760096"/><ellipse cx="1462.1" cy="1304.3" rx="6.3" ry="6.0" fill="#760096"/><ellipse cx="1484.3" cy="1310.1" rx="6.3" ry="6.0" fill="#760096"/><ellipse cx="1440.1" cy="1313.9" rx="6.3" ry="6.0" fill="#760096"/><ellipse cx="1418.0" cy="1315.2" rx="6.3" ry="6.0" fill="#760096"/><ellipse cx="1462.1" cy="1316.7" rx="6.3" ry="6.0" fill="#760096"/><ellipse cx="1462.1" cy="1328.2" rx="6.3" ry="6.0" fill="#760096"/><ellipse cx="1418.0" cy="1329.0" rx="6.3" ry="6.0" fill="#760096"/><ellipse cx="1440.1" cy="1337.5" rx="6.3" ry="6.0" fill="#760096"/><ellipse cx="1462.1" cy="1345.3" rx="6.3" ry="6.0" fill="#760096"/><ellipse cx="1418.0" cy="1348.1" rx="6.3" ry="6.0" fill="#760096"/><ellipse cx="1440.1" cy="1353.3" rx="6.3" ry="6.0" fill="#760096"/><ellipse cx="1440.1" cy="1365.0" rx="6.3" ry="6.0" fill="#760096"/><ellipse cx="1462.1" cy="1371.2" rx="6.3" ry="6.0" fill="#760096"/><ellipse cx="1440.1" cy="1388.3" rx="6.3" ry="6.0" fill="#760096"/><ellipse cx="1440.1" cy="1412.8" rx="6.3" ry="6.0" fill="#760096"/><ellipse cx="1440.1" cy="1437.4" rx="6.3" ry="6.0" fill="#760096"/><ellipse cx="1440.1" cy="1449.5" rx="6.3" ry="6.0" fill="#760096"/><ellipse cx="1440.1" cy="1542.8" rx="6.3" ry="6.0" fill="#760096"/><ellipse cx="1440.1" cy="1565.4" rx="6.3" ry="6.0" fill="#760096"/><ellipse cx="1440.1" cy="1576.6" rx="6.3" ry="6.0" fill="#760096"/><ellipse cx="1418.1" cy="1610.2" rx="6.3" ry="6.0" fill="#760096"/><ellipse cx="1440.1" cy="1621.4" rx="6.3" ry="6.0" fill="#760096"/><ellipse cx="1462.2" cy="1621.4" rx="6.3" ry="6.0" fill="#760096"/><ellipse cx="1440.1" cy="1632.7" rx="6.3" ry="6.0" fill="#760096"/>
<circle cx="529.5" cy="1510.7" r="5.4" fill="#008000"/>
<circle cx="529.5" cy="1546.9" r="5.4" fill="#0000c0"/>
<circle cx="529.5" cy="1582.5" r="5.4" fill="#ff0000"/>
<circle cx="529.5" cy="1615.7" r="5.4" fill="#760096"/>
<text x="32.09" y="33.20" font-size="48.5" font-weight="bold" textLength="31.85" lengthAdjust="spacingAndGlyphs">A</text>
<text x="34.29" y="1040.30" font-size="47" font-weight="bold" textLength="27.28" lengthAdjust="spacingAndGlyphs">B</text>
<text x="810.39" y="1040.30" font-size="47" font-weight="bold" textLength="27.38" lengthAdjust="spacingAndGlyphs">C</text>
<text x="216.02" y="266.90" font-size="21.5" font-weight="normal" textLength="47.50" lengthAdjust="spacingAndGlyphs">2 µm</text>
<text x="520.22" y="266.90" font-size="21.5" font-weight="normal" textLength="47.29" lengthAdjust="spacingAndGlyphs">2 µm</text>
<text x="828.62" y="265.70" font-size="21.5" font-weight="normal" textLength="47.50" lengthAdjust="spacingAndGlyphs">2 µm</text>
<text x="487.55" y="393.30" font-size="27" font-weight="normal" textLength="296.85" lengthAdjust="spacingAndGlyphs">Imaging flow cytometry</text>
<text x="366.01" y="419.40" font-size="25.7" font-weight="normal" textLength="35.51" lengthAdjust="spacingAndGlyphs">0.6</text>
<text x="365.03" y="636.00" font-size="25.7" font-weight="normal" textLength="34.67" lengthAdjust="spacingAndGlyphs">0.3</text>
<text x="389.95" y="855.30" font-size="25.7" font-weight="normal" textLength="15.01" lengthAdjust="spacingAndGlyphs">0</text>
<text x="402.49" y="887.20" font-size="25.7" font-weight="normal" textLength="36.24" lengthAdjust="spacingAndGlyphs">0.3</text>
<text x="558.34" y="887.20" font-size="25.7" font-weight="normal" textLength="34.25" lengthAdjust="spacingAndGlyphs">0.6</text>
<text x="715.79" y="887.20" font-size="25.7" font-weight="normal" textLength="36.14" lengthAdjust="spacingAndGlyphs">0.9</text>
<text x="871.37" y="887.20" font-size="25.7" font-weight="normal" textLength="34.53" lengthAdjust="spacingAndGlyphs">1.2</text>
<text x="590.00" y="920.50" font-size="26" font-weight="normal" textLength="136.09" lengthAdjust="spacingAndGlyphs">Aspect ratio</text>
<text x="367.52" y="1039.80" font-size="24.7" font-weight="bold" textLength="61.11" lengthAdjust="spacingAndGlyphs">Effect</text>
<text x="291.09" y="1072.80" font-size="24" font-weight="normal" textLength="216.92" lengthAdjust="spacingAndGlyphs">(24-hour incubation)</text>
<text x="1129.44" y="1040.30" font-size="24.7" font-weight="bold" textLength="169.60" lengthAdjust="spacingAndGlyphs">Sustainability</text>
<text x="1046.27" y="1072.80" font-size="24" font-weight="normal" textLength="338.20" lengthAdjust="spacingAndGlyphs">(24 hours after washing out)</text>
<text x="52.52" y="1184.50" font-size="32" font-weight="bold" textLength="50.19" lengthAdjust="spacingAndGlyphs">100</text>
<text x="69.36" y="1310.60" font-size="32" font-weight="bold" textLength="33.44" lengthAdjust="spacingAndGlyphs">50</text>
<text x="85.58" y="1437.20" font-size="32" font-weight="bold" textLength="16.46" lengthAdjust="spacingAndGlyphs">0</text>
<text x="58.86" y="1563.00" font-size="32" font-weight="bold" textLength="43.62" lengthAdjust="spacingAndGlyphs">-50</text>
<text x="822.98" y="1184.50" font-size="32" font-weight="bold" textLength="56.49" lengthAdjust="spacingAndGlyphs">100</text>
<text x="841.33" y="1310.80" font-size="32" font-weight="bold" textLength="38.18" lengthAdjust="spacingAndGlyphs">50</text>
<text x="859.63" y="1437.60" font-size="32" font-weight="bold" textLength="19.02" lengthAdjust="spacingAndGlyphs">0</text>
<text x="829.94" y="1564.30" font-size="32" font-weight="bold" textLength="49.19" lengthAdjust="spacingAndGlyphs">-50</text>
<text x="547.13" y="1519.50" font-size="22.5" font-weight="normal" textLength="155.06" lengthAdjust="spacingAndGlyphs">DMSO 0.015%</text>
<text x="549.20" y="1555.40" font-size="22.5" font-weight="normal" textLength="172.14" lengthAdjust="spacingAndGlyphs">TD-6450 0.5 μM</text>
<text x="547.06" y="1590.60" font-size="22.5" font-weight="normal" textLength="170.10" lengthAdjust="spacingAndGlyphs">NITD609 25 nM</text>
<text x="549.20" y="1623.80" font-size="22.5" font-weight="normal" textLength="262.06" lengthAdjust="spacingAndGlyphs">TD 0.5 μM + NITD 25 nM</text>
<text x="336.30" y="755.08" transform="rotate(-90 336.30 755.08)" font-size="26.3" font-weight="normal" textLength="253.47" lengthAdjust="spacingAndGlyphs">Normalized frequency</text>
<text x="32.80" y="1667.82" transform="rotate(-90 32.80 1667.82)" font-size="42.7" font-weight="bold" textLength="598.78" lengthAdjust="spacingAndGlyphs">Retention % (stiffening activity)</text>
</svg></body></html>
